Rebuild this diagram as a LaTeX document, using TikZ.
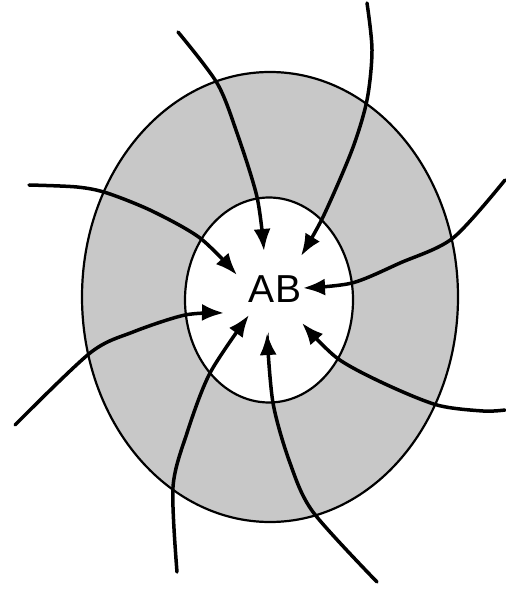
\documentclass[tikz,border=0pt]{standalone}
\usepackage{fontspec}
\setmainfont{Liberation Sans}
\usetikzlibrary{arrows.meta,shapes.geometric}
\definecolor{ringgrey}{HTML}{C8C8C8}
\tikzset{
  zone/.style={ellipse, draw=black, line width=2.2pt, inner sep=0pt},
  flux/.style={-{Latex[length=22pt,width=17pt]}, line width=3.5pt, line cap=round},
  lbl/.style={font=\fontsize{39}{39}\selectfont, inner sep=0pt},
}

\begin{document}
\begin{tikzpicture}[x=1pt, y=-1pt]
  \useasboundingbox (0,0) rectangle (505,593);
  \node[zone, fill=ringgrey, minimum width=376pt, minimum height=450pt] (outer) at (270,297) {};
  \node[zone, fill=white, minimum width=168pt, minimum height=205pt] (inner) at (269,300) {};
  \node[lbl] (ab) at (275,289) {AB};

  % free ends outside, tips round AB
  \coordinate (sA) at (178,32);   \coordinate (tA) at (264,251);
  \coordinate (sB) at (367,3);    \coordinate (tB) at (301,256);
  \coordinate (sC) at (29,185);   \coordinate (tC) at (237,275);
  \coordinate (sD) at (505,180);  \coordinate (tD) at (303,288);
  \coordinate (sE) at (15,425);   \coordinate (tE) at (224,313);
  \coordinate (sF) at (505,410);  \coordinate (tF) at (302,323);
  \coordinate (sG) at (177,572);  \coordinate (tG) at (249,315);
  \coordinate (sH) at (377,582);  \coordinate (tH) at (267,333);

  \draw[flux] plot[smooth, tension=0.5] coordinates {(sA) (217,83) (237,133) (257,197) (tA)};
  \draw[flux] plot[smooth, tension=0.5] coordinates {(sB) (372,50) (367,100) (352,150) (323,217) (tB)};
  \draw[flux] plot[smooth, tension=0.5] coordinates {(sC) (77,187) (107,193) (152,211) (200,238) (tC)};
  \draw[flux] plot[smooth, tension=0.5] coordinates {(sD) (453,238) (400,263) (352,283) (tD)};
  \draw[flux] plot[smooth, tension=0.5] coordinates {(sE) (90,353) (133,332) (185,315) (tE)};
  \draw[flux] plot[smooth, tension=0.5] coordinates {(sF) (483,411) (437,405) (383,383) (337,358) (tF)};
  \draw[flux] plot[smooth, tension=0.5] coordinates {(sG) (173,487) (187,433) (210,373) (tG)};
  \draw[flux] plot[smooth, tension=0.5] coordinates {(sH) (313,512) (290,463) (273,403) (tH)};
\end{tikzpicture}
\end{document}
